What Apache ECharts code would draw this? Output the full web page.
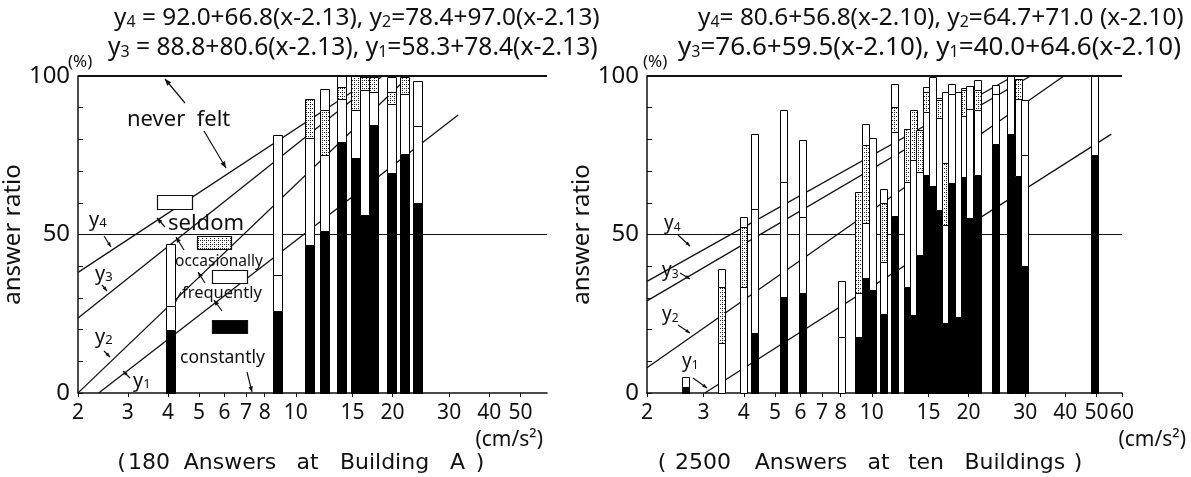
<!DOCTYPE html>
<html><head><meta charset="utf-8">
<script src="https://cdn.jsdelivr.net/npm/echarts@6/dist/echarts.min.js"></script>
<style>html,body{margin:0;padding:0;background:#fff}#c{width:1191px;height:477px}</style>
</head><body><div id="c"></div>
<script>
// ================= DATA =================
const xTicksLeft  = [2,3,4,5,6,7,8,10,15,20,30,40,50];
const xTicksRight = [2,3,4,5,6,7,8,10,15,20,30,40,50,60];
const yTickLabels = [0,50,100];

// Left panel: 180 answers at Building A  (acceleration cm/s^2, answer ratio %)
const leftAccel      = [4.08, 8.74, 11.0, 12.3, 13.9, 15.3, 16.3, 17.4, 19.9, 21.8, 23.9];
const leftConstantly = [19.9, 26.0, 46.7, 51.2, 79.2, 74.0, 56.1, 84.5, 69.3, 75.3, 59.8];
const leftFrequently = [ 7.4, 11.2, 33.6, 23.8, 13.7, 15.4, 39.4, 10.5, 22.0, 19.1, 24.4];
const leftOccasional = [ 0,    0,   12.6, 14.4,  3.6, 10.6,  4.2,  4.7,  3.7,  5.3,  0  ];
const leftSeldom     = [19.6, 44.1,  0,    6.6,  3.5,  0,    0,    0,    4.7,  0,   14.2];

// Right panel: 2500 answers at ten buildings
const rightAccel      = [2.63, 3.42, 3.99, 4.32, 5.31, 6.07, 8.08, 9.09, 9.58, 10.05, 10.9, 11.8, 12.96, 13.5, 14.1, 14.8, 15.5, 16.2, 16.9, 17.7, 18.6, 19.4, 20.2, 21.3, 24.2, 27.1, 28.6, 29.9, 49.1];
const rightConstantly = [1.8, 0, 0, 18.9, 30.4, 31.7, 0, 17.6, 36.2, 32.5, 25.0, 55.8, 33.4, 24.7, 43.5, 68.7, 65.3, 57.7, 22.0, 66.1, 24.1, 68.2, 55.1, 68.7, 78.7, 81.6, 68.4, 40.1, 75.0];
const rightFrequently = [3.2, 15.9, 33.3, 39.1, 36.2, 23.7, 17.6, 13.9, 17.5, 47.8, 16.4, 26.6, 33.2, 48.8, 26.3, 20.0, 34.4, 28.9, 31.0, 28.3, 70.9, 19.2, 34.6, 20.5, 15.7, 18.4, 24.5, 34.9, 25.0];
const rightOccasional = [0, 17.4, 19.2, 0, 0, 0, 0, 32.0, 24.5, 0, 18.4, 7.8, 16.8, 15.7, 13.1, 6.3, 0, 5.7, 19.4, 0, 0, 8.2, 0, 6.3, 0, 0, 6.3, 0, 0];
const rightSeldom     = [0, 5.8, 3.1, 23.6, 22.6, 24.3, 17.6, 0, 6.8, 0, 4.7, 7.2, 0, 0, 0, 1.5, 0, 0.9, 22.6, 3.1, 0, 0.5, 7.3, 3.1, 2.7, 0, 0, 17.3, 0];

// Regression lines y = A + B (x - C), x = log10(acceleration in mm/s^2); order y1..y4
const leftLineA  = [58.3, 78.4, 88.8, 92.0];
const leftLineB  = [78.4, 97.0, 80.6, 66.8];
const leftLineC  = 2.13;
const rightLineA = [40.0, 64.7, 76.6, 80.6];
const rightLineB = [64.6, 71.0, 59.5, 56.8];
const rightLineC = 2.10;
const leftLineEndAccel  = 32;    // extent of fitted range
const rightLineEndAccel = 55.6;

// ================= CHART =================
const FONT = 'Noto Sans';
const CAPFONT = 'DejaVu Sans';
const INK = '#111';
const dot = document.createElement('canvas');
dot.width = 4; dot.height = 4;
(function(){ const g = dot.getContext('2d'); g.fillStyle = '#fff'; g.fillRect(0,0,4,4);
  g.fillStyle = '#222'; g.fillRect(0,0,1,1); g.fillRect(2,2,1,1); g.fillRect(2,0,1,1); })();

function regLine(A, B, C, aMin, aMax) {
  const f = a => A + B * (Math.log10(a * 10) - C);
  const inv = y => Math.pow(10, C + (y - A) / B) / 10;
  let a0 = aMin; if (f(a0) < 0) a0 = inv(0);
  let a1 = aMax; if (f(a1) > 100) a1 = inv(100);
  return [[a0, f(a0)], [a1, f(a1)]];
}

function makeRender(w) {
  return function (params, api) {
    const a = api.value(0);
    const vals = [api.value(1), api.value(2), api.value(3), api.value(4)];
    const fills = ['#000', '#fff', { image: dot, repeat: 'repeat' }, '#fff'];
    let cum = 0; const children = [];
    for (let k = 0; k < 4; k++) {
      const v = vals[k];
      if (!(v > 0)) continue;
      const p0 = api.coord([a, cum]);
      const p1 = api.coord([a, cum + v]);
      children.push({ type: 'rect',
        shape: { x: Math.round(p0[0] - w / 2) + 0.5, y: Math.round(p1[1]) + 0.5, width: w, height: Math.round(p0[1]) - Math.round(p1[1]) },
        style: { fill: fills[k], stroke: '#000', lineWidth: 1 } });
      cum += v;
    }
    return { type: 'group', children };
  };
}

function mkX(idx, min, max, ticks) {
  const vals = ticks.map(v => Math.max(v, min));
  return { type: 'log', logBase: 10, gridIndex: idx, min, max,
    axisLine: { show: true, lineStyle: { color: INK, width: 1.5 } },
    axisTick: { show: true, customValues: vals, length: 4, lineStyle: { color: INK } },
    axisLabel: { customValues: vals, formatter: v => String(Math.floor(v + 1e-6)), fontSize: 21, fontFamily: FONT, color: INK, margin: 10 },
    splitLine: { show: false } };
}
function mkY(idx, gap) {
  return { type: 'value', gridIndex: idx, min: 0, max: 100, interval: 10,
    axisLine: { show: true, lineStyle: { color: INK, width: 1.5 } },
    axisTick: { show: true, inside: true, length: 5, lineStyle: { color: INK } },
    axisLabel: { formatter: v => (yTickLabels.indexOf(v) >= 0 ? String(v) : ''), fontSize: 24, fontFamily: FONT, color: INK, margin: 8 },
    splitLine: { show: false },
    name: 'answer ratio', nameLocation: 'middle', nameGap: gap, nameRotate: 90,
    nameTextStyle: { fontSize: 24, fontFamily: FONT, color: INK } };
}

const series = [];
function addPanel(idx, A, B, C, aMin, aEnd, accel, c, f, o, s, w) {
  for (let k = 0; k < 4; k++) {
    const sObj = { type: 'line', xAxisIndex: idx, yAxisIndex: idx, data: regLine(A[k], B[k], C, aMin, aEnd),
      showSymbol: false, symbol: 'none', silent: true, z: 2, lineStyle: { color: INK, width: 1.3 } };
    if (k === 0) sObj.markLine = { silent: true, symbol: 'none', z: 1, label: { show: false },
      data: [ { yAxis: 50, lineStyle: { color: INK, width: 1, type: 'solid' } },
              { yAxis: 100, lineStyle: { color: INK, width: 2, type: 'solid' } } ] };
    series.push(sObj);
  }
  series.push({ type: 'custom', xAxisIndex: idx, yAxisIndex: idx, z: 5, silent: true,
    renderItem: makeRender(w), encode: { x: 0, y: 1 },
    data: accel.map((a, i) => [a, c[i], f[i], o[i], s[i]]) });
}
addPanel(0, leftLineA, leftLineB, leftLineC, 2.1, leftLineEndAccel, leftAccel, leftConstantly, leftFrequently, leftOccasional, leftSeldom, 9);
addPanel(1, rightLineA, rightLineB, rightLineC, 2.0, rightLineEndAccel, rightAccel, rightConstantly, rightFrequently, rightOccasional, rightSeldom, 7);

// ---------- annotations ----------
function txt(x, y, text, size, align, fam) {
  return { type: 'text', x, y, z: 20, style: { text, fontSize: size, fontFamily: fam || FONT, fill: INK, align: align || 'left', verticalAlign: 'middle' } };
}
function rich(x, y, text, size, sub) {
  return { type: 'text', x, y, z: 20, style: { text, align: 'left', verticalAlign: 'middle',
    rich: { n: { fontSize: size, fontFamily: FONT, fill: INK }, s: { fontSize: sub, fontFamily: FONT, fill: INK, padding: [Math.round(size * 0.35), 0, 0, 0] } } } };
}
function ln(x1, y1, x2, y2, w) {
  return { type: 'line', z: 20, shape: { x1, y1, x2, y2 }, style: { stroke: INK, lineWidth: w || 1.2 } };
}
function arrow(x1, y1, x2, y2, h) {
  h = h || 7; const ang = Math.atan2(y2 - y1, x2 - x1);
  return [ln(x1, y1, x2, y2), { type: 'polygon', z: 20, shape: { points: [[x2, y2],
    [x2 - h * Math.cos(ang - 0.38), y2 - h * Math.sin(ang - 0.38)],
    [x2 - h * Math.cos(ang + 0.38), y2 - h * Math.sin(ang + 0.38)]] }, style: { fill: INK } }];
}
function box(x, y, w, h, fill) {
  return { type: 'rect', z: 20, shape: { x: x + 0.5, y: y + 0.5, width: w, height: h }, style: { fill, stroke: INK, lineWidth: 1.2 } };
}
function words(list, y, size) {
  return list.map(p => txt(p[1], y, p[0], size, 'center', CAPFONT));
}

const graphics = [
  // formulas
  rich(114, 18, '{n|y}{s|4}{n| = 92.0+66.8(x-2.13), y}{s|2}{n|=78.4+97.0(x-2.13)}', 24.4, 16),
  rich(108, 48, '{n|y}{s|3}{n| = 88.8+80.6(x-2.13), y}{s|1}{n|=58.3+78.4(x-2.13)}', 24.6, 16),
  txt(68, 62, '(%)', 17),
  rich(698, 18, '{n|y}{s|4}{n|= 80.6+56.8(x-2.10), y}{s|2}{n|=64.7+71.0 (x-2.10)}', 24.4, 16),
  rich(678, 48, '{n|y}{s|3}{n|=76.6+59.5(x-2.10), y}{s|1}{n|=40.0+64.6(x-2.10)}', 26, 16),
  txt(643, 62, '(%)', 17),
  // units
  txt(543, 440, '(cm/s²)', 21, 'right'),
  txt(1186, 440, '(cm/s²)', 21, 'right'),
  // left panel legend / notes
  txt(127, 120, 'never  felt', 22),
  box(157, 195, 35, 14, '#fff'),
  txt(168, 224, 'seldom', 22),
  box(197, 236, 34, 13, { image: dot, repeat: 'repeat' }),
  txt(175, 262, 'occasionally', 15.5),
  box(212, 270, 35, 13, '#fff'),
  txt(182, 293, 'frequently', 16.5),
  box(212, 320, 35, 13, '#000'),
  txt(180, 358, 'constantly', 17.5),
  ln(175, 303, 181, 292),
  // line labels left
  rich(89, 220, '{n|y}{s|4}', 20, 13),
  rich(95, 274, '{n|y}{s|3}', 20, 13),
  rich(95, 337, '{n|y}{s|2}', 20, 13),
  rich(133, 381, '{n|y}{s|1}', 20, 13),
  // line labels right
  rich(664, 224, '{n|y}{s|4}', 19, 12),
  rich(662, 271, '{n|y}{s|3}', 19, 12),
  rich(662, 315, '{n|y}{s|2}', 19, 12),
  rich(682, 362, '{n|y}{s|1}', 19, 12)
].concat(
  // captions (widely spaced lettering)
  words([['(', 121.5], ['180', 149], ['Answers', 230], ['at', 307.5], ['Building', 384.5], ['A', 457.5], [')', 480]], 463, 22),
  words([['(', 662], ['2500', 703], ['Answers', 801], ['at', 878.6], ['ten', 926], ['Buildings', 1014.8], [')', 1078]], 463, 22),
  arrow(185, 103, 165, 79), arrow(204, 131, 226, 168),
  arrow(165, 227, 157, 218, 6), arrow(184, 250, 176, 237, 6),
  arrow(205, 283, 198, 272, 6), arrow(222, 311, 214, 300, 6),
  arrow(247, 372, 252, 392, 6),
  arrow(104, 236, 111, 247, 5), arrow(102, 285, 107, 291, 5),
  arrow(104, 351, 110, 357, 5), arrow(130, 378, 123, 371, 5),
  arrow(678, 235, 690, 246, 5), arrow(680, 273, 690, 279, 5),
  arrow(678, 325, 690, 333, 5), arrow(693, 378, 707, 388, 5)
);

const chart = echarts.init(document.getElementById('c'), null, { renderer: 'canvas' });
chart.setOption({
  animation: false,
  backgroundColor: '#fff',
  grid: [ { left: 71, top: 76, width: 476, height: 317 }, { left: 647, top: 76, width: 475, height: 317 } ],
  xAxis: [ mkX(0, 2.1, 60.5, xTicksLeft), mkX(1, 2.0, 60, xTicksRight) ],
  yAxis: [ mkY(0, 38), mkY(1, 28) ],
  series,
  graphic: graphics
});
</script></body></html>
